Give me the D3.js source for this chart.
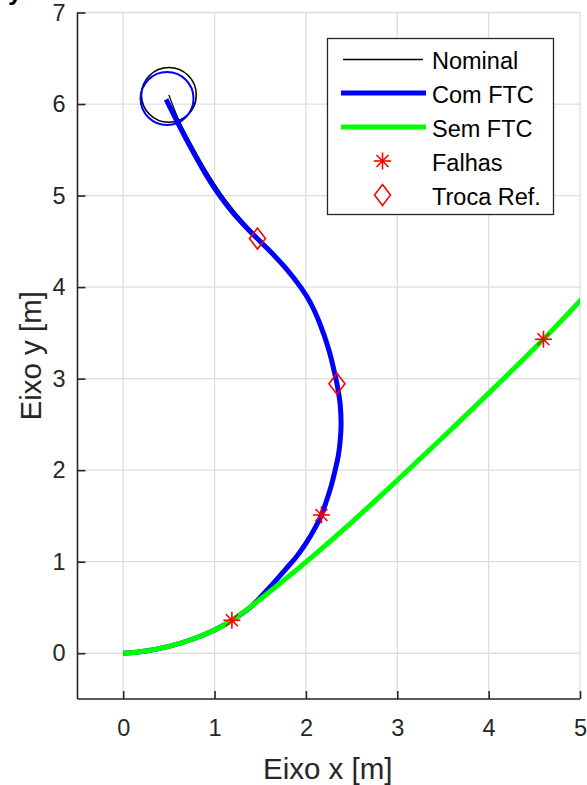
<!DOCTYPE html>
<html>
<head>
<meta charset="utf-8">
<script src="https://cdn.jsdelivr.net/npm/d3@7"></script>
<style>
  html, body { margin: 0; padding: 0; background: #fff; }
  svg { display: block; font-family: "Liberation Sans", Arial, Helvetica, sans-serif; }
</style>
</head>
<body>
<svg id="chart" width="587" height="785"></svg>
<script>
// Trajectory samples (x, y in metres)
const comFtcPath = [
  [0,0],[0.25,0.025],[0.5,0.075],[0.75,0.15],[1.0,0.255],[1.19,0.36],[1.4,0.51],
  [1.52,0.63],[1.65,0.77],[1.78,0.92],[1.9,1.06],[2.0,1.2],[2.09,1.35],[2.17,1.51],
  [2.23,1.68],[2.28,1.84],[2.32,2.0],[2.355,2.16],[2.375,2.32],[2.385,2.5],[2.375,2.72],
  [2.355,2.86],[2.34,2.945],[2.31,3.08],[2.25,3.318],[2.15,3.608],[2.05,3.828],[1.95,3.988],
  [1.8,4.183],[1.65,4.348],[1.5,4.498],[1.35,4.648],[1.2,4.813],[1.05,5.008],[0.9,5.24],
  [0.75,5.505],[0.6,5.79],[0.47,6.05]
];
const nominalPath = [
  [0,0],[0.25,0.025],[0.5,0.075],[0.75,0.15],[1.0,0.255],[1.19,0.36],[1.4,0.51],
  [1.52,0.63],[1.65,0.77],[1.78,0.92],[1.9,1.06],[2.0,1.2],[2.09,1.35],[2.17,1.51],
  [2.23,1.68],[2.28,1.84],[2.32,2.0],[2.355,2.16],[2.375,2.32],[2.385,2.5],[2.375,2.72],
  [2.355,2.86],[2.34,2.945],[2.31,3.08],[2.25,3.318],[2.15,3.608],[2.052,3.83],[1.955,3.992],
  [1.808,4.19],[1.66,4.357],[1.512,4.51],[1.365,4.662],[1.218,4.83],[1.068,5.026],[0.918,5.258],
  [0.768,5.522],[0.618,5.805],[0.5,6.1]
];
const semFtcPath = [
  [0,0],[0.25,0.025],[0.5,0.075],[0.75,0.15],[1.0,0.255],[1.19,0.36],[1.45,0.55],
  [1.75,0.79],[2.1,1.08],[2.5,1.43],[3.0,1.89],[3.5,2.36],[4.0,2.84],[4.6,3.43],
  [5.0,3.85],[5.1,3.96]
];
// Hover circles at the end of the route: [cx, cy, r]
const nominalCircle = [0.5, 6.1, 0.3];
const comFtcCircle = [0.48, 6.06, 0.29];
// Fault instants and reference switches
const falhas = [[1.19,0.36],[2.17,1.51],[4.6,3.43]];
const trocaRef = [[1.47,4.53],[2.34,2.945]];

const xTicks = [0,1,2,3,4,5];
const yTicks = [0,1,2,3,4,5,6,7];
const legendItems = ["Nominal","Com FTC","Sem FTC","Falhas","Troca Ref."];

const svg = d3.select("#chart");
const pLeft = 77.5, pRight = 580, pTop = 12.5, pBottom = 699;
const x = d3.scaleLinear().domain([-0.5,5]).range([pLeft,pRight]);
const y = d3.scaleLinear().domain([-0.5,7]).range([pBottom,pTop]);
const axisColor = "#262626";

svg.append("defs").append("clipPath").attr("id","plotClip")
  .append("rect").attr("x",pLeft).attr("y",pTop).attr("width",pRight-pLeft).attr("height",pBottom-pTop);

// grid
const grid = svg.append("g").attr("stroke","#dedede").attr("stroke-width",1.3);
xTicks.forEach(t => grid.append("line").attr("x1",x(t)).attr("x2",x(t)).attr("y1",pTop).attr("y2",pBottom));
yTicks.forEach(t => grid.append("line").attr("x1",pLeft).attr("x2",pRight).attr("y1",y(t)).attr("y2",y(t)));

// axes (inward ticks)
const xAxis = d3.axisBottom(x).tickValues(xTicks).tickSize(-8).tickPadding(20).tickFormat(d3.format("d"));
const yAxis = d3.axisLeft(y).tickValues(yTicks).tickSize(-8).tickPadding(12).tickFormat(d3.format("d"));
const gx = svg.append("g").attr("transform",`translate(0,${pBottom})`).call(xAxis);
const gy = svg.append("g").attr("transform",`translate(${pLeft},0)`).call(yAxis);
[gx,gy].forEach(g => {
  g.select(".domain").attr("stroke",axisColor).attr("stroke-width",1.6);
  g.selectAll(".tick line").attr("stroke",axisColor).attr("stroke-width",1.6);
  g.selectAll(".tick text").attr("fill",axisColor).attr("font-size",23.5)
    .attr("font-family","Liberation Sans, Arial, sans-serif");
});
gx.select(".domain").attr("d",`M${pLeft},0H${pRight}`);
gy.select(".domain").attr("d",`M0,${pBottom}V${pTop}`);

// axis titles
svg.append("text").attr("x",(pLeft+pRight)/2 - 1).attr("y",779).attr("text-anchor","middle")
  .attr("font-size",29.5).attr("fill",axisColor).text("Eixo x [m]");
svg.append("text").attr("transform",`translate(41,${(pTop+pBottom)/2})rotate(-90)`)
  .attr("text-anchor","middle").attr("font-size",29.5).attr("fill",axisColor).text("Eixo y [m]");

// panel letter at the top-left corner
svg.append("text").attr("x",8).attr("y",-0.5).attr("font-size",26).attr("font-weight","bold")
  .attr("fill","#000").text("y");

const line = d3.line().x(d => x(d[0])).y(d => y(d[1])).curve(d3.curveCatmullRom.alpha(0.5));
const plot = svg.append("g").attr("clip-path","url(#plotClip)");

// nominal reference first, then the two flown trajectories over it
plot.append("path").attr("d",line(nominalPath)).attr("fill","none")
  .attr("stroke","#000").attr("stroke-width",1.3);
plot.append("circle").attr("cx",x(nominalCircle[0])).attr("cy",y(nominalCircle[1]))
  .attr("r",x(nominalCircle[2])-x(0)).attr("fill","none").attr("stroke","#000").attr("stroke-width",1.6);
plot.append("path").attr("d",line(comFtcPath)).attr("fill","none")
  .attr("stroke","#0000ff").attr("stroke-width",5);
plot.append("circle").attr("cx",x(comFtcCircle[0])).attr("cy",y(comFtcCircle[1]))
  .attr("r",x(comFtcCircle[2])-x(0)).attr("fill","none").attr("stroke","#0000ff").attr("stroke-width",2);
plot.append("path").attr("d",line(semFtcPath)).attr("fill","none")
  .attr("stroke","#00ff00").attr("stroke-width",5);

// markers
function asterisk(g, cx, cy) {
  const a = 8.5, b = 6;
  const s = g.append("g").attr("stroke","#ff0000").attr("stroke-width",1.6);
  s.append("line").attr("x1",cx-a).attr("x2",cx+a).attr("y1",cy).attr("y2",cy);
  s.append("line").attr("x1",cx).attr("x2",cx).attr("y1",cy-a).attr("y2",cy+a);
  s.append("line").attr("x1",cx-b).attr("x2",cx+b).attr("y1",cy-b).attr("y2",cy+b);
  s.append("line").attr("x1",cx-b).attr("x2",cx+b).attr("y1",cy+b).attr("y2",cy-b);
}
function diamond(g, cx, cy) {
  const w = 8, h = 10.5;
  g.append("path").attr("d",`M${cx},${cy-h}L${cx+w},${cy}L${cx},${cy+h}L${cx-w},${cy}Z`)
    .attr("fill","none").attr("stroke","#ff0000").attr("stroke-width",1.6);
}
falhas.forEach(d => asterisk(svg, x(d[0]), y(d[1])));
trocaRef.forEach(d => diamond(svg, x(d[0]), y(d[1])));

// legend
const lg = svg.append("g");
lg.append("rect").attr("x",327.5).attr("y",38.5).attr("width",226).attr("height",176)
  .attr("fill","#fff").attr("stroke","#262626").attr("stroke-width",1.3);
const rowY = [59.5, 93, 127, 161, 195];
legendItems.forEach((name,i) => {
  const yy = rowY[i];
  if (i === 0) lg.append("line").attr("x1",343).attr("x2",423).attr("y1",yy).attr("y2",yy).attr("stroke","#000").attr("stroke-width",1.3);
  if (i === 1) lg.append("line").attr("x1",341).attr("x2",426).attr("y1",yy).attr("y2",yy).attr("stroke","#0000ff").attr("stroke-width",5);
  if (i === 2) lg.append("line").attr("x1",341).attr("x2",426).attr("y1",yy).attr("y2",yy).attr("stroke","#00ff00").attr("stroke-width",5);
  if (i === 3) asterisk(lg, 382.5, yy);
  if (i === 4) diamond(lg, 382.5, yy);
  lg.append("text").attr("x",432).attr("y",yy+9.5).attr("font-size",23.5).attr("fill","#000").text(name);
});
</script>
</body>
</html>
